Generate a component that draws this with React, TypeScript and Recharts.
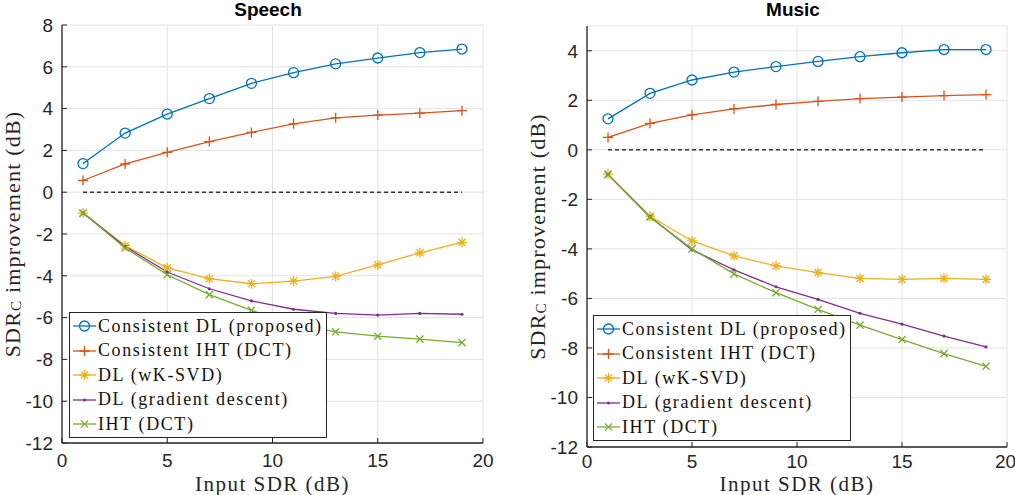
import { LineChart, Line, XAxis, YAxis, CartesianGrid, ReferenceLine } from 'recharts';

// input SDR values (dB) where each method was evaluated
const inputSdr = [1, 3, 5, 7, 9, 11, 13, 15, 17, 19];
const xTicks = [0, 5, 10, 15, 20];
const speechYTicks = [-12, -10, -8, -6, -4, -2, 0, 2, 4, 6, 8];
const musicYTicks = [-12, -10, -8, -6, -4, -2, 0, 2, 4];

const seriesNames = [
  'Consistent DL (proposed)',
  'Consistent IHT (DCT)',
  'DL (wK-SVD)',
  'DL (gradient descent)',
  'IHT (DCT)',
];

// Speech
const speechConsistentDL = [1.37, 2.83, 3.74, 4.48, 5.21, 5.72, 6.14, 6.42, 6.68, 6.85];
const speechConsistentIHT = [0.56, 1.35, 1.91, 2.42, 2.86, 3.27, 3.56, 3.69, 3.78, 3.9];
const speechWKSVD = [-1, -2.56, -3.62, -4.14, -4.38, -4.25, -4.03, -3.48, -2.9, -2.4];
const speechGradient = [-1, -2.6, -3.82, -4.62, -5.2, -5.6, -5.8, -5.88, -5.8, -5.84];
const speechIHT = [-1, -2.67, -3.95, -4.9, -5.65, -6.3, -6.68, -6.89, -7.03, -7.2];

// Music
const musicConsistentDL = [1.25, 2.28, 2.82, 3.14, 3.36, 3.57, 3.76, 3.92, 4.05, 4.05];
const musicConsistentIHT = [0.5, 1.07, 1.41, 1.65, 1.83, 1.96, 2.07, 2.13, 2.19, 2.23];
const musicWKSVD = [-0.98, -2.68, -3.68, -4.28, -4.69, -4.96, -5.19, -5.23, -5.19, -5.23];
const musicGradient = [-1, -2.7, -4.04, -4.85, -5.53, -6.04, -6.6, -7.04, -7.52, -7.96];
const musicIHT = [-1, -2.72, -4.0, -5.01, -5.77, -6.44, -7.08, -7.66, -8.23, -8.74];

const keys = ['cdl', 'ciht', 'wksvd', 'gd', 'iht'];
const colors = ['#0072BD', '#D95319', '#EDB120', '#7E2F8E', '#77AC30'];
const markers = ['circle', 'plus', 'star', 'dot', 'cross'];

const AX = '#262626';
const SANS = 'Liberation Sans, Arial, sans-serif';
const SERIF = 'Liberation Serif, serif';

function buildRows(series: number[][]) {
  return inputSdr.map((x, i) => {
    const row: Record<string, number> = { x };
    keys.forEach((k, j) => (row[k] = series[j][i]));
    return row;
  });
}

const speechRows = buildRows([speechConsistentDL, speechConsistentIHT, speechWKSVD, speechGradient, speechIHT]);
const musicRows = buildRows([musicConsistentDL, musicConsistentIHT, musicWKSVD, musicGradient, musicIHT]);

function Marker({ kind, color, cx, cy }: { kind: string; color: string; cx: number; cy: number }) {
  const sw = 1.3;
  if (kind === 'circle') return <circle cx={cx} cy={cy} r={5} fill="none" stroke={color} strokeWidth={sw} />;
  if (kind === 'dot') return <circle cx={cx} cy={cy} r={1.6} fill={color} stroke="none" />;
  const plus = `M${cx - 5},${cy}H${cx + 5}M${cx},${cy - 5}V${cy + 5}`;
  const cross = `M${cx - 3.6},${cy - 3.6}L${cx + 3.6},${cy + 3.6}M${cx - 3.6},${cy + 3.6}L${cx + 3.6},${cy - 3.6}`;
  let d = plus;
  if (kind === 'cross') d = cross;
  if (kind === 'star') d = plus + cross;
  return <path d={d} fill="none" stroke={color} strokeWidth={sw} />;
}

function YLabel(props: any) {
  const vb = props.viewBox;
  const cx = vb.x + vb.width - 50;
  const cy = vb.y + vb.height / 2;
  return (
    <text
      x={cx}
      y={cy}
      transform={`rotate(-90 ${cx} ${cy})`}
      textAnchor="middle"
      dominantBaseline="central"
      style={{ fontFamily: SERIF, fontSize: 22, letterSpacing: 1.2 }}
      fill="#262626"
    >
      SDR<tspan fontSize={15} dy={4}>C</tspan>
      <tspan dy={-4}> improvement (dB)</tspan>
    </text>
  );
}

function XLabel(props: any) {
  const vb = props.viewBox;
  return (
    <text
      x={vb.x + vb.width / 2}
      y={vb.y + vb.height - 11}
      textAnchor="middle"
      dominantBaseline="central"
      style={{ fontFamily: SERIF, fontSize: 21, letterSpacing: 1.5 }}
      fill="#262626"
    >
      Input SDR (dB)
    </text>
  );
}

function Legend({ left, top }: { left: number; top: number }) {
  return (
    <div
      style={{
        position: 'absolute',
        left,
        top,
        width: 258,
        height: 126,
        boxSizing: 'border-box',
        border: `1.3px solid ${AX}`,
        background: '#fff',
        paddingTop: 1,
        fontFamily: SERIF,
        fontSize: 18,
        letterSpacing: 1.6,
        color: '#111',
      }}
    >
      {seriesNames.map((name, i) => (
        <div key={name} style={{ height: 24.5, display: 'flex', alignItems: 'center', whiteSpace: 'nowrap' }}>
          <svg width={26} height={16} style={{ marginLeft: 2, flex: 'none' }}>
            <line x1={1} y1={8} x2={24} y2={8} stroke={colors[i]} strokeWidth={1.3} />
            <Marker kind={markers[i]} color={colors[i]} cx={12.5} cy={8} />
          </svg>
          <span>{name}</span>
        </div>
      ))}
    </div>
  );
}

function Panel({
  rows,
  yTicks,
  yMax,
  width,
  margin,
  xAxisHeight,
  xTickMargin,
}: {
  rows: Record<string, number>[];
  yTicks: number[];
  yMax: number;
  width: number;
  margin: { top: number; right: number; bottom: number; left: number };
  xAxisHeight: number;
  xTickMargin: number;
}) {
  const tickStyle = { fontSize: 19, fill: AX, fontFamily: SANS };
  return (
    <LineChart width={width} height={495} data={rows} margin={margin}>
      <CartesianGrid stroke="#e3e3e3" strokeWidth={1} />
      <XAxis
        dataKey="x"
        type="number"
        domain={[0, 20]}
        ticks={xTicks}
        tick={tickStyle}
        tickSize={-5}
        tickMargin={xTickMargin}
        height={xAxisHeight}
        stroke={AX}
        axisLine={{ stroke: AX, strokeWidth: 1.3 }}
        tickLine={{ stroke: AX }}
        label={<XLabel />}
      />
      <XAxis
        xAxisId="top"
        dataKey="x"
        type="number"
        orientation="top"
        domain={[0, 20]}
        ticks={xTicks}
        tickFormatter={() => ''}
        tickSize={-5}
        height={0}
        axisLine={{ stroke: AX, strokeWidth: 1.3 }}
        tickLine={{ stroke: AX }}
      />
      <YAxis
        type="number"
        domain={[-12, yMax]}
        ticks={yTicks}
        tick={tickStyle}
        tickSize={-5}
        tickMargin={14}
        width={50}
        axisLine={{ stroke: AX, strokeWidth: 1.3 }}
        tickLine={{ stroke: AX }}
        label={<YLabel />}
      />
      <YAxis
        yAxisId="right"
        orientation="right"
        type="number"
        domain={[-12, yMax]}
        ticks={yTicks}
        tickFormatter={() => ''}
        tickSize={-5}
        width={0}
        axisLine={{ stroke: AX, strokeWidth: 1.3 }}
        tickLine={{ stroke: AX }}
      />
      <ReferenceLine
        segment={[
          { x: inputSdr[0], y: 0 },
          { x: inputSdr[inputSdr.length - 1], y: 0 },
        ]}
        stroke="#333"
        strokeWidth={1.5}
        strokeDasharray="4 3"
      />
      {keys.map((k, i) => (
        <Line
          key={k}
          dataKey={k}
          stroke={colors[i]}
          strokeWidth={1.3}
          isAnimationActive={false}
          dot={(p: any) => <Marker key={`${k}-${p.index}`} kind={markers[i]} color={colors[i]} cx={p.cx} cy={p.cy} />}
          activeDot={false}
        />
      ))}
    </LineChart>
  );
}

function Title({ text, center }: { text: string; center: number }) {
  return (
    <div
      style={{
        position: 'absolute',
        left: center - 100,
        width: 200,
        top: -1,
        textAlign: 'center',
        fontFamily: SANS,
        fontWeight: 'bold',
        fontSize: 19,
        color: '#000',
      }}
    >
      {text}
    </div>
  );
}

export default function App() {
  return (
    <div style={{ position: 'absolute', left: 0, top: 0, width: 1015, height: 495, background: '#fff', overflow: 'hidden' }}>
      <div style={{ position: 'absolute', left: 0, top: 0 }}>
        <Panel
          rows={speechRows}
          yTicks={speechYTicks}
          yMax={8}
          width={500}
          margin={{ top: 25, right: 17, bottom: 0, left: 12 }}
          xAxisHeight={52}
          xTickMargin={16}
        />
      </div>
      <div style={{ position: 'absolute', left: 500, top: 0 }}>
        <Panel
          rows={musicRows}
          yTicks={musicYTicks}
          yMax={5}
          width={515}
          margin={{ top: 26, right: 8, bottom: 0, left: 37 }}
          xAxisHeight={48}
          xTickMargin={13}
        />
      </div>
      <Title text="Speech" center={268} />
      <Title text="Music" center={793} />
      <Legend left={69} top={312} />
      <Legend left={593} top={315} />
    </div>
  );
}
